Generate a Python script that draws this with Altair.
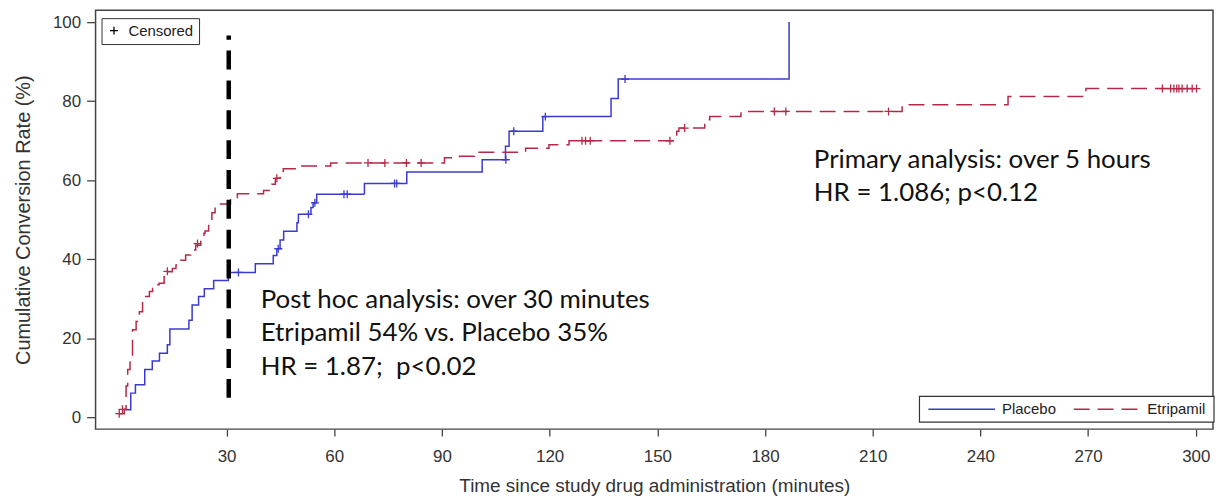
import altair as alt
import pandas as pd

# ---------------- data ----------------
groups = ["Placebo", "Etripamil"]
colors = ["#3A3ACF", "#B32A48"]

placebo_t = [1.5, 3.3, 4.6, 7.2, 9.3, 11.3, 13.5, 14.2, 19.5, 20.4, 22.2, 23.8, 26.4,
             30.5, 38.0, 43.0, 44.0, 44.9, 45.9, 49.6, 50.0, 53.5, 54.1, 55.1, 68.4,
             80.2, 101.2, 107.7, 108.7, 118.1, 137.1, 139.1, 186.7]
placebo_v = [2.0, 6.2, 8.3, 12.2, 14.3, 16.3, 18.4, 22.4, 24.6, 28.5, 30.6, 32.6, 34.7,
             36.7, 38.9, 41.0, 42.7, 44.9, 47.1, 49.3, 51.4, 53.1, 54.3, 56.5, 59.2,
             62.1, 65.2, 68.6, 72.4, 76.1, 80.7, 85.6, 100.0]

etri_t = [0.0, 1.5, 2.0, 2.45, 3.1, 3.8, 4.8, 5.7, 6.6, 7.5, 8.5, 9.4, 10.3, 11.2, 12.6,
          13.5, 14.9, 15.9, 17.2, 18.6, 20.0, 21.4, 22.8, 23.7, 24.0, 25.0, 25.9, 26.8,
          27.5, 31.1, 33.0, 40.3, 42.6, 43.6, 44.9, 45.8, 50.0, 59.0, 90.7, 94.9, 99.0,
          113.3, 119.8, 125.4, 155.4, 156.0, 163.2, 164.6, 173.3, 218.2, 247.7, 269.4,
          300.4]
etri_v = [1.0, 2.1, 8.0, 12.2, 15.5, 22.2, 24.3, 26.8, 29.3, 30.6, 31.9, 32.7, 33.6, 34.0,
          35.6, 36.9, 37.7, 38.6, 39.8, 41.1, 42.4, 43.6, 45.3, 46.6, 47.2, 49.7, 51.8,
          53.5, 54.0, 55.6, 56.6, 57.4, 59.0, 60.5, 62.3, 62.9, 63.6, 64.4, 65.7, 66.1,
          67.1, 68.1, 69.0, 70.0, 72.4, 73.2, 75.3, 76.1, 77.4, 79.1, 81.2, 83.2, 83.2]

placebo_cens_t = [33.3, 44.4, 52.8, 54.6, 62.7, 63.6, 76.8, 77.4, 107.8, 110.0, 118.8, 141.0]
placebo_cens_v = [36.7, 42.7, 51.4, 54.3, 56.5, 56.5, 59.2, 59.2, 65.2, 72.4, 76.1, 85.6]

etri_cens_t = [0.1, 1.0, 13.5, 21.9, 44.0, 69.4, 74.1, 80.1, 84.2, 129.0, 130.0, 131.3,
               153.5, 157.6, 182.6, 185.8, 214.4, 290.7, 293.0, 293.9, 294.7, 295.3,
               296.2, 297.6, 299.0, 300.2]
etri_cens_v = [1.0, 2.1, 37.0, 44.0, 60.5, 64.4, 64.4, 64.4, 64.4, 70.0, 70.0, 70.0,
               70.0, 73.2, 77.4, 77.4, 77.4, 83.2, 83.2, 83.2, 83.2, 83.2, 83.2, 83.2,
               83.2, 83.2]

x_ticks = [30, 60, 90, 120, 150, 180, 210, 240, 270, 300]
y_ticks = [0, 20, 40, 60, 80, 100]

ref_line_t = [30.6]
ref_line_v1 = [5.0]
ref_line_v2 = [96.6]

posthoc_lines = ["Post hoc analysis: over 30 minutes",
                 "Etripamil 54% vs. Placebo 35%",
                 "HR = 1.87;\u00a0 p<0.02"]
posthoc_t = [39.5, 39.5, 39.5]
posthoc_v = [29.8, 21.5, 12.9]

primary_lines = ["Primary analysis: over 5 hours", "HR = 1.086; p<0.12"]
primary_t = [193.6, 193.6]
primary_v = [65.0, 56.7]

# ---------------- tables ----------------
curve_df = pd.concat([
    pd.DataFrame({"t": placebo_t, "v": placebo_v, "group": "Placebo"}),
    pd.DataFrame({"t": etri_t, "v": etri_v, "group": "Etripamil"}),
], ignore_index=True)

cens_df = pd.concat([
    pd.DataFrame({"t": placebo_cens_t, "v": placebo_cens_v, "group": "Placebo"}),
    pd.DataFrame({"t": etri_cens_t, "v": etri_cens_v, "group": "Etripamil"}),
], ignore_index=True)
cens_df["lab"] = "Censored"

ref_df = pd.DataFrame({"t": ref_line_t, "v1": ref_line_v1, "v2": ref_line_v2})
text_df = pd.DataFrame({"t": posthoc_t + primary_t, "v": posthoc_v + primary_v,
                        "txt": posthoc_lines + primary_lines})
one_row = pd.DataFrame({"k": [0]})

# ---------------- scales / axes ----------------
x_scale = alt.Scale(domain=[-6.5, 304.8], nice=False, zero=False)
y_scale = alt.Scale(domain=[-2.9, 103.0], nice=False, zero=False)

x_axis = alt.Axis(values=x_ticks, title="Time since study drug administration (minutes)",
                  tickSize=7, labelPadding=13, titlePadding=12, grid=False, domain=False)
y_axis = alt.Axis(values=y_ticks, title="Cumulative Conversion Rate (%)",
                  tickSize=9, labelPadding=6, titlePadding=19, grid=False, domain=False,
                  titleFontSize=20)

plus_path = "M-1,0H1M0,-1V1"

lines = alt.Chart(curve_df).mark_line(interpolate="step-after", strokeWidth=1.5).encode(
    x=alt.X("t:Q", scale=x_scale, axis=x_axis),
    y=alt.Y("v:Q", scale=y_scale, axis=y_axis),
    color=alt.Color("group:N", scale=alt.Scale(domain=groups, range=colors), legend=None),
    strokeDash=alt.StrokeDash("group:N", scale=alt.Scale(domain=groups, range=[[1, 0], [16, 8]]),
                              legend=None),
)

cens = alt.Chart(cens_df).mark_point(filled=False, size=64, strokeWidth=1.3, opacity=1).encode(
    x="t:Q",
    y="v:Q",
    stroke=alt.Stroke("group:N", scale=alt.Scale(domain=groups, range=colors), legend=None),
    shape=alt.Shape("lab:N", scale=alt.Scale(domain=["Censored"], range=[plus_path]),
                    legend=alt.Legend(title=None, orient="none", legendX=6, legendY=8,
                                      strokeColor="#333", padding=5, symbolStrokeColor="black",
                                      symbolFillColor="transparent", symbolStrokeWidth=1.3,
                                      symbolSize=64, labelFontSize=15, labelColor="#222",
                                      labelOffset=7)),
)

ref = alt.Chart(ref_df).mark_rule(color="black", strokeWidth=4.5, strokeDash=[19, 11]).encode(
    x="t:Q", y="v1:Q", y2="v2:Q")

texts = alt.Chart(text_df).mark_text(align="left", baseline="middle", font="Lato",
                                     fontSize=26, color="#111").encode(
    x="t:Q", y="v:Q", text="txt:N")

# series legend (bottom-right box inside the frame)
leg_box = alt.Chart(one_row).mark_rect(fill="white", stroke="#333", strokeWidth=1.2).encode(
    x=alt.value(828), x2=alt.value(1124), y=alt.value(388), y2=alt.value(414))
leg_blue = alt.Chart(one_row).mark_rule(color=colors[0], strokeWidth=1.5).encode(
    x=alt.value(837), x2=alt.value(904), y=alt.value(401))
leg_red = alt.Chart(one_row).mark_rule(color=colors[1], strokeWidth=1.5, strokeDash=[16, 8]).encode(
    x=alt.value(983), x2=alt.value(1047), y=alt.value(401))
leg_t1 = alt.Chart(one_row).mark_text(text=groups[0], align="left", baseline="middle",
                                      font="Liberation Sans", fontSize=15, color="#222").encode(
    x=alt.value(911), y=alt.value(401))
leg_t2 = alt.Chart(one_row).mark_text(text=groups[1], align="left", baseline="middle",
                                      font="Liberation Sans", fontSize=15, color="#222").encode(
    x=alt.value(1057), y=alt.value(401))

chart = alt.layer(lines, cens, ref, texts, leg_box, leg_blue, leg_red, leg_t1, leg_t2).properties(
    width=1123, height=421,
    autosize=alt.AutoSizeParams(type="none"),
    padding={"left": 88, "top": 1, "right": 2, "bottom": 68},
).configure_view(stroke="#444", strokeWidth=1.5).configure_axis(
    labelFont="Liberation Sans", labelFontSize=17, labelColor="#333",
    titleFont="Liberation Sans", titleFontSize=19, titleFontWeight="normal", titleColor="#333",
    tickColor="#444", tickWidth=1.3,
).configure_legend(labelFont="Liberation Sans")

chart.save("out.html", embed_options={"renderer": "svg", "actions": False})
